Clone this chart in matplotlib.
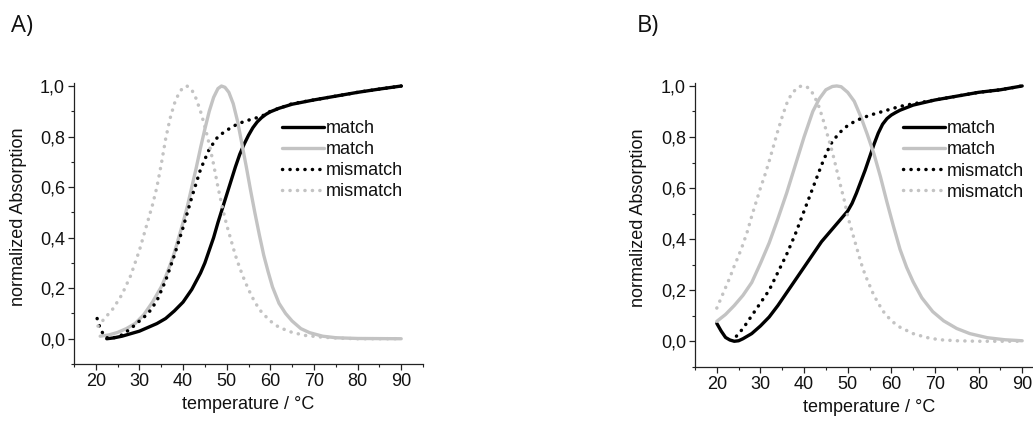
import matplotlib
matplotlib.use("Agg")
import matplotlib.pyplot as plt
from matplotlib.ticker import MultipleLocator, FuncFormatter

plt.rcParams['font.family'] = ['Liberation Sans', 'DejaVu Sans']

# ---------------- Panel A data ----------------
a_match_black_x = [22.5, 24, 26, 28, 30, 32, 34, 36, 38, 40, 42, 44, 45, 46, 47, 48, 49, 50, 51, 52, 53, 54, 55, 56, 57, 58, 59, 60, 62, 65, 70, 75, 80, 85, 90]
a_match_black_y = [0.0, 0.003, 0.01, 0.02, 0.03, 0.045, 0.06, 0.08, 0.11, 0.145, 0.195, 0.26, 0.3, 0.35, 0.4, 0.46, 0.515, 0.57, 0.625, 0.68, 0.73, 0.77, 0.805, 0.835, 0.858, 0.875, 0.888, 0.898, 0.912, 0.928, 0.945, 0.96, 0.975, 0.988, 1.0]

a_match_grey_x = [21, 23, 25, 27, 29, 31, 33, 35, 36, 37, 38, 39, 40, 41, 42, 43, 44, 45, 46, 47, 48, 48.8, 49.6, 50.5, 51.5, 52.5, 53.5, 54.5, 55.5, 56.5, 57.5, 58.5, 59.5, 60.5, 62, 63.5, 65, 67, 69, 72, 75, 80, 90]
a_match_grey_y = [0.01, 0.015, 0.025, 0.04, 0.06, 0.095, 0.145, 0.205, 0.245, 0.29, 0.34, 0.4, 0.46, 0.525, 0.6, 0.675, 0.755, 0.83, 0.9, 0.955, 0.99, 1.0, 0.995, 0.975, 0.93, 0.86, 0.77, 0.68, 0.585, 0.495, 0.41, 0.33, 0.265, 0.205, 0.14, 0.1, 0.07, 0.04, 0.024, 0.01, 0.004, 0.001, 0.0]

a_mis_black_x = [20.3, 21, 22, 23, 24, 26, 28, 30, 32, 34, 36, 38, 40, 42, 44, 46, 48, 50, 52, 54, 56, 58, 60, 65, 70, 75, 80, 85, 90]
a_mis_black_y = [0.08, 0.04, 0.01, 0.0, 0.003, 0.015, 0.04, 0.07, 0.1, 0.15, 0.23, 0.33, 0.44, 0.56, 0.67, 0.75, 0.8, 0.825, 0.845, 0.86, 0.87, 0.88, 0.9, 0.93, 0.945, 0.96, 0.975, 0.988, 1.0]

a_mis_grey_x = [20.5, 22, 24, 26, 28, 30, 31, 32, 33, 34, 35, 36, 37, 38, 39, 40, 40.9, 42, 43, 44, 45, 46, 47, 48, 49, 50, 51, 52, 53, 54, 55, 56, 57, 58, 60, 62, 65, 68, 72, 76, 80, 90]
a_mis_grey_y = [0.05, 0.08, 0.12, 0.175, 0.25, 0.35, 0.41, 0.47, 0.53, 0.6, 0.69, 0.79, 0.87, 0.93, 0.97, 0.995, 1.0, 0.985, 0.95, 0.9, 0.84, 0.77, 0.69, 0.6, 0.52, 0.45, 0.39, 0.33, 0.28, 0.235, 0.195, 0.16, 0.13, 0.105, 0.07, 0.045, 0.025, 0.013, 0.006, 0.002, 0.0, 0.0]

# ---------------- Panel B data ----------------
b_match_black_x = [20, 21, 22, 23, 24, 25, 26, 28, 30, 32, 34, 36, 38, 40, 42, 44, 46, 48, 50, 51, 52, 53, 54, 55, 56, 57, 58, 59, 60, 61, 62, 65, 70, 75, 80, 85, 90]
b_match_black_y = [0.07, 0.04, 0.015, 0.005, 0.0, 0.002, 0.01, 0.03, 0.06, 0.095, 0.14, 0.19, 0.24, 0.29, 0.34, 0.39, 0.43, 0.47, 0.51, 0.54, 0.58, 0.625, 0.67, 0.72, 0.77, 0.815, 0.85, 0.872, 0.886, 0.896, 0.905, 0.925, 0.945, 0.96, 0.975, 0.985, 1.0]

b_match_grey_x = [20, 22, 24, 26, 28, 30, 32, 34, 36, 38, 40, 42, 43.5, 45, 46.5, 47.5, 48.5, 50, 51.5, 53, 54.5, 56, 57.5, 59, 60.5, 62, 63.5, 65, 67, 69.5, 72, 75, 78, 82, 86, 90]
b_match_grey_y = [0.078, 0.105, 0.14, 0.18, 0.23, 0.305, 0.385, 0.48, 0.58, 0.69, 0.8, 0.9, 0.95, 0.985, 0.998, 1.0, 0.997, 0.975, 0.94, 0.88, 0.81, 0.735, 0.645, 0.545, 0.45, 0.36, 0.29, 0.233, 0.17, 0.116, 0.08, 0.05, 0.03, 0.014, 0.006, 0.002]

b_mis_black_x = [24.5, 26, 28, 30, 32, 34, 36, 38, 40, 42, 44, 46, 48, 50, 52, 55, 58, 60, 62, 65, 70, 75, 80, 85, 90]
b_mis_black_y = [0.02, 0.05, 0.1, 0.15, 0.2, 0.27, 0.34, 0.42, 0.51, 0.6, 0.69, 0.77, 0.815, 0.845, 0.865, 0.885, 0.9, 0.91, 0.92, 0.93, 0.945, 0.96, 0.975, 0.985, 1.0]

b_mis_grey_x = [20, 21, 22, 23, 24, 25, 26, 27, 28, 29, 30, 31, 32, 33, 34, 35, 36, 37, 38, 39, 39.7, 40.5, 41.5, 42.5, 43.5, 44.5, 45.5, 46.5, 47.5, 48.5, 49.3, 50, 51, 52, 53, 54, 55, 56, 58, 60, 62, 65, 68, 71, 75, 80, 90]
b_mis_grey_y = [0.13, 0.17, 0.21, 0.25, 0.295, 0.335, 0.38, 0.43, 0.49, 0.545, 0.6, 0.65, 0.705, 0.765, 0.825, 0.88, 0.93, 0.965, 0.985, 0.998, 1.0, 0.998, 0.985, 0.955, 0.915, 0.86, 0.8, 0.74, 0.67, 0.6, 0.547, 0.49, 0.43, 0.37, 0.31, 0.26, 0.22, 0.18, 0.12, 0.08, 0.055, 0.03, 0.015, 0.006, 0.002, 0.0, 0.0]

labels = ["match", "match", "mismatch", "mismatch"]
xticks = [20, 30, 40, 50, 60, 70, 80, 90]
yticks = [0.0, 0.2, 0.4, 0.6, 0.8, 1.0]

BLACK = "#000000"
GREY = "#c3c3c3"
DOT = (0, (0.05, 2.1))
FS = 13

W, H = 1033, 423
fig = plt.figure(figsize=(W / 100, H / 100), dpi=100)


def make_panel(rect, data, letter, letter_x, ylab_x):
    ax = fig.add_axes(rect)
    (mbx, mby), (mgx, mgy), (dbx, dby), (dgx, dgy) = data
    ax.plot(mbx, mby, color=BLACK, lw=2.4, solid_capstyle='round', solid_joinstyle='round', label=labels[0])
    ax.plot(mgx, mgy, color=GREY, lw=2.4, solid_capstyle='round', solid_joinstyle='round', label=labels[1])
    ax.plot(dbx, dby, color=BLACK, lw=2.5, linestyle=DOT, dash_capstyle='round', label=labels[2])
    ax.plot(dgx, dgy, color=GREY, lw=2.5, linestyle=DOT, dash_capstyle='round', label=labels[3])
    ax.set_xlim(15, 95)
    ax.set_ylim(-0.1, 1.01)
    ax.set_xticks(xticks)
    ax.set_yticks(yticks)
    ax.xaxis.set_minor_locator(MultipleLocator(5))
    ax.yaxis.set_minor_locator(MultipleLocator(0.1))
    ax.yaxis.set_major_formatter(FuncFormatter(lambda v, p: f"{v:.1f}".replace('.', ',')))
    for s in ('top', 'right'):
        ax.spines[s].set_visible(False)
    for s in ('left', 'bottom'):
        ax.spines[s].set_linewidth(0.9)
        ax.spines[s].set_color('#222222')
    ax.tick_params(which='major', direction='out', length=4, width=0.9, labelsize=FS,
                   pad=2.5, colors='#222222', labelcolor='#111111')
    ax.tick_params(which='minor', direction='out', length=2.5, width=0.8, colors='#222222')
    ax.set_xlabel("temperature / °C", fontsize=FS, color='#111111')
    ax.set_ylabel("normalized Absorption", fontsize=FS, color='#111111')
    ax.xaxis.set_label_coords(0.5, -0.115)
    ax.yaxis.set_label_coords(ylab_x, 0.525)
    leg = ax.legend(loc='upper left', bbox_to_anchor=(0.595, 0.87), frameon=False,
                    fontsize=FS, handlelength=2.35, handletextpad=0.1,
                    labelspacing=0.23, borderpad=0, borderaxespad=0)
    for t in leg.get_texts():
        t.set_color('#111111')
    fig.text(letter_x, 1 - 32 / H, letter, fontsize=17, family=['Open Sans', 'DejaVu Sans'],
             ha='left', va='baseline', color='#111111')
    return ax


make_panel([74 / W, 1 - 364 / H, 349 / W, 280.5 / H],
           [(a_match_black_x, a_match_black_y), (a_match_grey_x, a_match_grey_y),
            (a_mis_black_x, a_mis_black_y), (a_mis_grey_x, a_mis_grey_y)],
           "A)", 11 / W, -0.135)
make_panel([695 / W, 1 - 366.8 / H, 349 / W, 283.4 / H],
           [(b_match_black_x, b_match_black_y), (b_match_grey_x, b_match_grey_y),
            (b_mis_black_x, b_mis_black_y), (b_mis_grey_x, b_mis_grey_y)],
           "B)", 637 / W, -0.138)

fig.savefig("out.png", dpi=100)
